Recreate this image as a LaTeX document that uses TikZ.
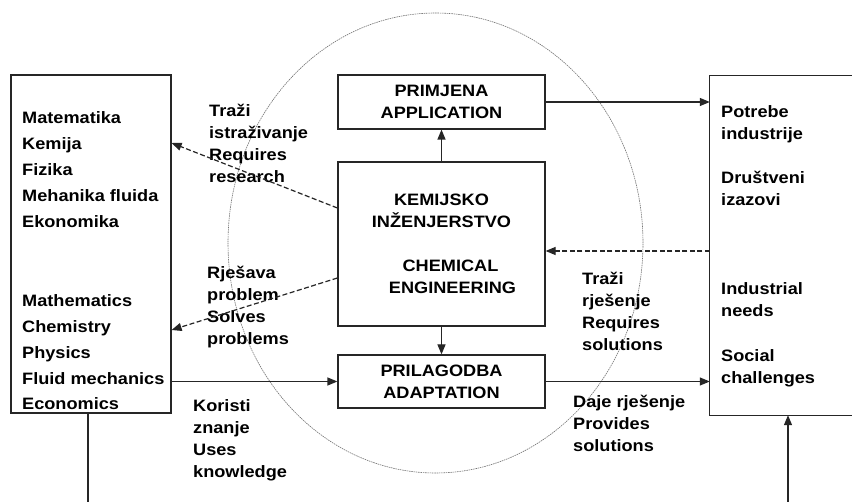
\documentclass[tikz,border=0pt]{standalone}
\usepackage{fontspec}
\setmainfont{Liberation Sans}[FakeStretch=1.1]
\usetikzlibrary{arrows.meta,shapes.geometric}
\tikzset{
  boxline/.style={draw=black!85, line width=1.2pt},
  box/.style={boxline, rectangle, inner sep=0pt, align=center},
  txt/.style={inner sep=0pt, anchor=base west, align=left},
  arr/.style={draw=black!85, line width=1.2pt, -{Triangle[length=10pt,width=8pt]}},
  darr/.style={arr, dash pattern=on 5pt off 2.5pt},
  ring/.style={draw=black!55, line width=0.6pt, dash pattern=on 1.5pt off 0.8pt, ellipse, inner sep=0pt}
}
\begin{document}
\begin{tikzpicture}[x=1pt,y=-1pt,font=\fontsize{16.5}{22}\selectfont\bfseries]
\useasboundingbox (0,0) rectangle (852,502);
\fill[white] (0,0) rectangle (852,502);
% ellipse
\node[ring, minimum width=415pt, minimum height=460pt] (circ) at (435.5,243) {};
% boxes
\node[box, minimum width=160pt, minimum height=338pt] (lbox) at (91,244) {};
\node[box, minimum width=207pt, minimum height=54pt] (app) at (441.5,102) {PRIMJENA\\APPLICATION};
\node[box, minimum width=207pt, minimum height=164pt] (chem) at (441.5,244) {KEMIJSKO\\INŽENJERSTVO\\[22pt]\hspace*{18pt}CHEMICAL\\\hspace*{22pt}ENGINEERING};
\node[box, minimum width=207pt, minimum height=53pt] (adapt) at (441.5,381.5) {PRILAGODBA\\ADAPTATION};
\node[rectangle, inner sep=0pt, minimum width=150pt, minimum height=339pt] (rbox) at (785,245.5) {};
\draw[boxline] (rbox.north east) -- (rbox.north west) -- (rbox.south west) -- (rbox.south east);
% left box text (anchored at last line's baseline)
\node[txt, font=\fontsize{16.5}{26}\selectfont\bfseries] (lt1) at (22,228) {Matematika\\Kemija\\Fizika\\Mehanika fluida\\Ekonomika};
\node[txt, font=\fontsize{16.5}{26}\selectfont\bfseries] (lt2) at (22,410) {Mathematics\\Chemistry\\Physics\\Fluid mechanics\\Economics};
% right box text
\node[txt] (rt1) at (721,140) {Potrebe\\industrije};
\node[txt] (rt2) at (721,206) {Društveni\\izazovi};
\node[txt] (rt3) at (721,317) {Industrial\\needs};
\node[txt] (rt4) at (721,384) {Social\\challenges};
% labels
\node[txt] (l1) at (209,183) {Traži\\istraživanje\\Requires\\research};
\node[txt] (l2) at (207,345) {Rješava\\problem\\Solves\\problems};
\node[txt] (l3) at (193,478) {Koristi\\znanje\\Uses\\knowledge};
\node[txt] (l4) at (582,351) {Traži\\rješenje\\Requires\\solutions};
\node[txt] (l5) at (573,452) {Daje rješenje\\Provides\\solutions};
% connectors
\coordinate (chemr) at ([yshift=-7pt]chem.east);
\coordinate (cheml1) at ([yshift=36pt]chem.west);
\coordinate (cheml2) at ([yshift=-34pt]chem.west);
\coordinate (lbox1) at ([yshift=101pt]lbox.east);
\coordinate (lbox2) at ([yshift=-86pt]lbox.east);
\draw[arr] (chem.north) -- (app.south);
\draw[arr] (chem.south) -- (adapt.north);
\draw[arr] (app.east) -- (rbox.west |- app.east);
\draw[darr] (rbox.west |- chemr) -- (chemr);
\draw[arr] (adapt.east) -- (rbox.west |- adapt.east);
\draw[arr] (lbox.east |- adapt.west) -- (adapt.west);
\draw[darr] (cheml1) -- (lbox1);
\draw[darr] (cheml2) -- (lbox2);
\coordinate (lend) at (88,502);
\coordinate (rstart) at (788,502);
\draw[boxline] (lbox.south -| lend) -- (lend);
\draw[arr] (rstart) -- (rbox.south -| rstart);
\end{tikzpicture}
\end{document}
